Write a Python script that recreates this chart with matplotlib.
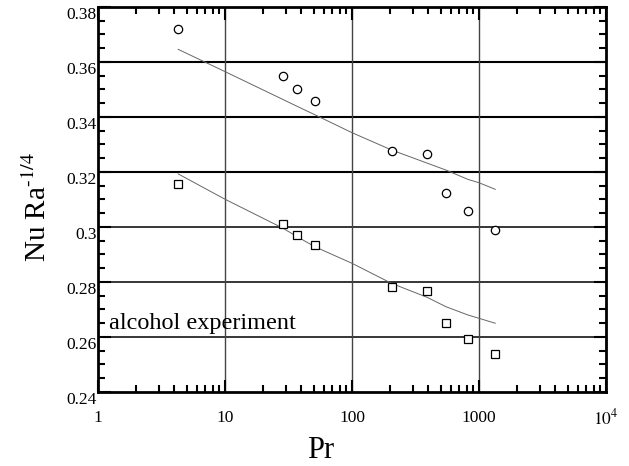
import matplotlib
matplotlib.use('Agg')
import matplotlib.pyplot as plt
from matplotlib.ticker import FixedLocator, MultipleLocator, NullFormatter

plt.rcParams['font.family'] = ['Liberation Serif', 'DejaVu Serif']
plt.rcParams['mathtext.fontset'] = 'stix'

# 数据
pr = [4.28, 28.5, 36.9, 51.1, 205, 392, 550, 819, 1343]
nu_upper = [0.372, 0.355, 0.350, 0.3458, 0.3277, 0.3264, 0.3125, 0.3058, 0.2989]
nu_lower = [0.3156, 0.3011, 0.2970, 0.2935, 0.2783, 0.2768, 0.2652, 0.2593, 0.2537]

# 拟合曲线
fit_pr = [4.28, 10, 28.5, 36.9, 51.1, 100, 205, 392, 550, 819, 1000, 1343]
fit_upper = [0.3646, 0.3565, 0.3464, 0.3439, 0.3408, 0.3343, 0.3280, 0.3232, 0.3207, 0.3173, 0.3161, 0.3137]
fit_lower = [0.3193, 0.3101, 0.2996, 0.2965, 0.2928, 0.2868, 0.2795, 0.2744, 0.2710, 0.2680, 0.2668, 0.2650]

x_ticks = [1, 10, 100, 1000, 10000]
x_ticklabels = ['1', '10', '100', '1000', '']
y_ticks = [0.24, 0.26, 0.28, 0.30, 0.32, 0.34, 0.36, 0.38]
y_ticklabels = ['0.24', '0.26', '0.28', '0.3', '0.32', '0.34', '0.36', '0.38']

fig = plt.figure(figsize=(6.29, 4.66), dpi=100)
ax = fig.add_axes([0.1558, 0.1588, 0.8076, 0.8262])

ax.set_xscale('log')
ax.set_xlim(1, 10000)
ax.set_ylim(0.24, 0.38)

# 网格线
for y in y_ticks[1:-1]:
    ax.axhline(y, color='black', lw=1.5 if y > 0.31 else 1.1, zorder=1)
for x in x_ticks[1:-1]:
    ax.axvline(x, color='#444444', lw=1.0, zorder=1)

ax.plot(fit_pr, fit_upper, color='#666666', lw=0.7, zorder=2)
ax.plot(fit_pr, fit_lower, color='#666666', lw=0.7, zorder=2)
ax.plot(pr, nu_upper, 'o', mfc='white', mec='black', ms=6, mew=0.9, zorder=3)
ax.plot(pr, nu_lower, 's', mfc='white', mec='black', ms=5.5, mew=0.9, zorder=3)

ax.text(1.22, 0.2629, 'alcohol experiment', fontsize=17.5, va='baseline', ha='left')

ax.set_xticks(x_ticks)
ax.set_xticklabels(x_ticklabels)
ax.xaxis.set_minor_formatter(NullFormatter())
ax.yaxis.set_major_locator(FixedLocator(y_ticks))
ax.set_yticklabels(y_ticklabels, va='top')
ax.yaxis.set_minor_locator(MultipleLocator(0.005))

# 10^4 单独放，让基线与其它刻度标签对齐
ax.text(10000, -0.083, '$10^{4}$', transform=ax.get_xaxis_transform(),
        fontsize=12.5, ha='center', va='baseline')

ax.tick_params(which='both', direction='in', top=True, right=True, width=1.5)
ax.tick_params(which='major', length=9)
ax.tick_params(which='minor', length=5)
ax.tick_params(axis='y', which='major', labelsize=12.5, pad=1)
ax.tick_params(axis='x', which='major', labelsize=12.5, pad=13)

for s in ax.spines.values():
    s.set_linewidth(2)

ax.set_xlabel('Pr', fontsize=22, labelpad=7, x=0.439)
ax.set_ylabel('Nu Ra$^{\u2010 1/4}$', fontsize=21, labelpad=10, y=0.48)

plt.savefig('out.png', dpi=100)
